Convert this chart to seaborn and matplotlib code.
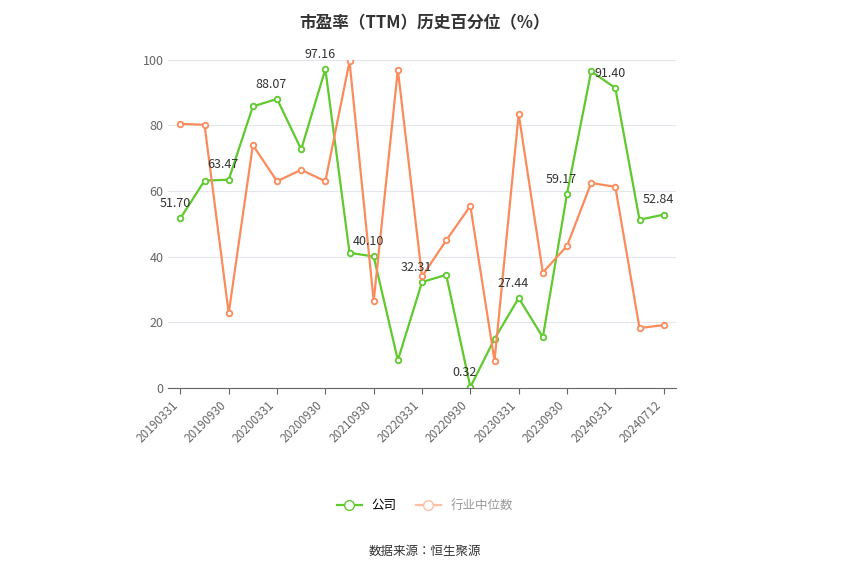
import pandas as pd
import matplotlib.pyplot as plt
import seaborn as sns
from matplotlib.lines import Line2D

plt.rcParams['font.family'] = ['Noto Sans CJK JP', 'Noto Sans CJK SC', 'Noto Sans CJK TC',
                               'Noto Sans CJK KR', 'DejaVu Sans']

dates = ['20190331', '20190630', '20190930', '20191231', '20200331', '20200630',
         '20200930', '20201231', '20210930', '20211231', '20220331', '20220630',
         '20220930', '20221231', '20230331', '20230630', '20230930', '20231231',
         '20240331', '20240630', '20240712']
company = [51.70, 63.2, 63.47, 85.8, 88.07, 72.7, 97.16, 41.2, 40.10, 8.5, 32.31,
           34.5, 0.32, 15.0, 27.44, 15.5, 59.17, 96.5, 91.40, 51.3, 52.84]
industry = [80.5, 80.2, 22.8, 74.0, 63.0, 66.5, 63.0, 99.5, 26.5, 97.0, 34.0,
            45.0, 55.5, 8.3, 83.5, 35.2, 43.3, 62.5, 61.3, 18.3, 19.2]
labeled = [0, 2, 4, 6, 8, 10, 12, 14, 16, 18, 20]

green = '#5fc92e'
orange = '#fb8b5b'

df = pd.DataFrame({'x': range(len(dates)), '公司': company, '行业中位数': industry})
long = df.melt(id_vars='x', var_name='series', value_name='v')

fig = plt.figure(figsize=(8.5, 5.75), dpi=100)
ax = fig.add_axes([0.198, 0.325, 0.597, 0.571])
sns.lineplot(data=long, x='x', y='v', hue='series', palette=[green, orange],
             marker='o', markersize=4, markerfacecolor='white', markeredgewidth=1.3,
             linewidth=1.6, ax=ax, legend=False)
for line, c in zip(ax.lines, [green, orange]):
    line.set_markeredgecolor(c)

for i in labeled:
    ax.annotate(f'{company[i]:.2f}', (i, company[i]), xytext=(-4, 6),
                textcoords='offset points', ha='center', va='bottom',
                fontsize=9, color='#333333')

ax.set_ylim(0, 100)
ax.set_xlim(-0.5, len(dates) - 0.5)
ax.set_yticks(range(0, 101, 20))
ax.set_xticks(range(0, len(dates), 2))
ax.set_xticklabels(dates[::2], rotation=45, ha='right', fontsize=8.5, color='#666666')
ax.tick_params(axis='y', labelsize=9, colors='#666666', length=0)
ax.tick_params(axis='x', length=4, color='#666666')
ax.grid(axis='y', color='#e3e6ec', linewidth=0.8)
ax.set_axisbelow(True)
for s in ['top', 'right', 'left']:
    ax.spines[s].set_visible(False)
ax.spines['bottom'].set_color('#666666')
ax.set_xlabel('')
ax.set_ylabel('')

fig.text(0.5, 0.975, '市盈率（TTM）历史百分位（%）', ha='center', va='top',
         fontsize=12, fontweight='bold', color='#333333')

handles = [Line2D([], [], color=green, marker='o', markerfacecolor='white', markersize=7, lw=1.6),
           Line2D([], [], color='#fdbfa4', marker='o', markerfacecolor='white', markersize=7, lw=1.6)]
leg = fig.legend(handles, ['公司', '行业中位数'], loc='center', bbox_to_anchor=(0.5, 0.121),
                 ncol=2, frameon=False, fontsize=9, handlelength=2, columnspacing=1.5)
leg.get_texts()[1].set_color('#999999')

fig.text(0.5, 0.035, '数据来源：恒生聚源', ha='center', fontsize=9, color='#333333')

fig.savefig('out.png', dpi=100)
